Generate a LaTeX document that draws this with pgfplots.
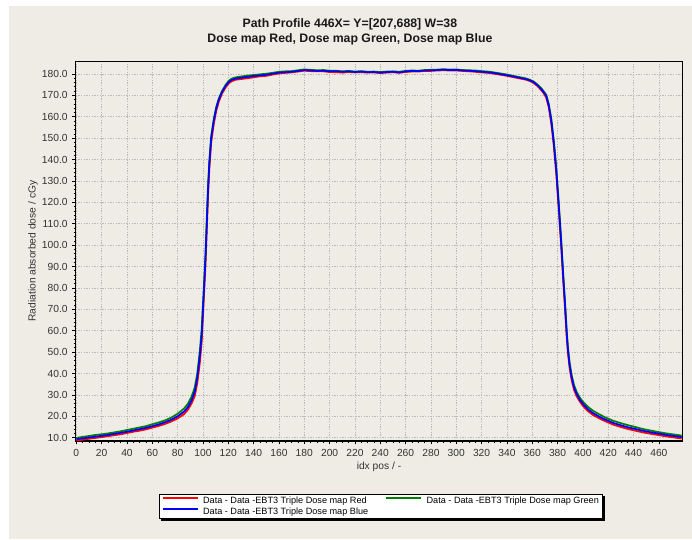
\documentclass[border=0pt]{standalone}
\usepackage{fontspec}
\setmainfont{Liberation Sans}
\usepackage{pgfplots}
\pgfplotsset{compat=1.18}
\usepackage{pgfplotstable}
\definecolor{bgbeige}{RGB}{238,236,228}
\definecolor{gridgray}{RGB}{185,185,185}
\definecolor{dgreen}{RGB}{0,128,0}

\pgfplotstableread{
x b r g
0 9.3 8.7 9.9
5 9.7 9.1 10.4
10 10.1 9.5 10.8
15 10.5 9.9 11.3
20 10.9 10.3 11.6
25 11.3 10.7 12.0
30 11.8 11.2 12.5
35 12.3 11.6 13.0
40 12.8 12.2 13.6
45 13.4 12.8 14.2
50 14.0 13.3 14.8
55 14.6 13.9 15.4
60 15.4 14.7 16.3
65 16.2 15.5 17.1
70 17.2 16.4 18.1
75 18.4 17.6 19.4
80 20.0 19.0 21.2
85 22.2 21.0 23.6
88 24.2 23.0 25.8
91 27.5 26.0 29.2
93.5 31.5 29.5 33.5
95.5 38 35.5 40
97.5 48 45 50.5
99 58 55 61
100 70 67 72.5
101 82 79 84
102 94 91 96
103 110 107 112
104 126 123 127.5
105 138 135.5 139
106.5 150 148 151
108.5 158 156.5 158.8
110.5 164 162.8 164.6
112.5 168 167.0 168.5
115 171.5 170.8 172.0
118 174.5 173.8 175.0
120.5 176.3 175.7 176.9
123 177.3 176.7 177.9
126 177.8 177.3 178.4
130 178.2 177.6 178.8
135 178.6 178.0 179.2
140 179.0 178.4 179.5
145 179.3 178.9 179.8
150 179.6 179.1 180.1
155 180.1 179.7 180.5
160 180.6 180.2 181.0
165 180.8 180.5 181.2
170 181.0 180.7 181.3
175 181.4 181.1 181.7
180 181.8 181.5 182.1
185 181.6 181.3 181.9
190 181.4 181.2 181.7
195 181.5 181.2 181.8
200 181.2 180.9 181.5
205 181.3 180.8 181.5
210 181.0 180.6 181.2
215 181.2 180.9 181.4
220 180.9 180.7 181.1
225 181.1 180.8 181.3
230 180.8 180.6 181.0
235 180.9 180.7 181.1
240 180.6 180.4 180.9
245 180.9 180.6 181.1
250 181.0 180.8 181.2
255 180.7 180.5 181.0
260 181.2 180.9 181.4
265 181.4 181.1 181.6
270 181.3 181.1 181.5
275 181.6 181.4 181.8
280 181.7 181.4 181.9
285 181.8 181.6 182.0
290 182.0 181.7 182.2
295 181.8 181.6 182.0
300 181.9 181.6 182.1
305 181.6 181.4 181.8
310 181.5 181.2 181.7
315 181.3 181.0 181.6
320 181.0 180.7 181.3
325 180.8 180.5 181.1
330 180.4 180.1 180.7
335 179.9 179.6 180.2
340 179.4 179.1 179.7
345 178.8 178.5 179.1
350 178.2 177.9 178.5
355 177.6 177.3 177.9
358 177.0 176.7 177.3
361 176.2 175.8 176.5
364 174.8 174.4 175.1
367 173.0 172.5 173.4
369 171.5 171.0 171.9
371 169.8 169.0 170.3
373 165.5 164.5 166.0
375 158.5 157.0 159.2
377 148 146.5 149
379 135 133 136
381 118 116 119
383 100 98 101
384.5 85 83 86
385.7 74 72 75
387.2 59 57 60.2
388.2 51 49.5 52.2
389.5 44 42.6 45.2
391 38.5 37.2 39.6
393 33.5 32.4 34.6
395 30.5 29.5 31.5
397.6 27.7 26.8 28.7
400 25.8 24.9 26.8
404 23.3 22.4 24.4
408 21.5 20.6 22.6
413 19.8 19.0 20.9
418 18.4 17.6 19.4
424 16.9 16.1 17.9
430 15.8 15.0 16.8
436 14.8 14.0 15.8
442 14.0 13.2 14.9
448 13.2 12.4 14.0
454 12.5 11.8 13.3
460 11.9 11.2 12.6
466 11.3 10.6 12.0
472 10.8 10.1 11.5
478 10.3 9.6 11.0
}\datatab

\begin{document}
\begin{tikzpicture}
\useasboundingbox (0pt,0pt) rectangle (519pt,404.25pt);
\fill[white] (0pt,0pt) rectangle (519pt,404.25pt);
\fill[bgbeige] (6.75pt,0pt) rectangle (519pt,399.75pt);
\begin{axis}[
  at={(56.775pt,73.5pt)}, anchor=south west,
  scale only axis, width=454.95pt, height=284.775pt,
  xmin=-0.5, xmax=478.5, ymin=8.46, ymax=185.9,
  xtick={0,20,...,460}, ytick={10,20,...,180},
  minor x tick num=3, minor y tick num=4,
  tick align=outside, major tick length=2.5pt, minor tick length=1.6pt,
  xtick pos=left, ytick pos=left,
  tick style={black, line width=0.5pt},
  grid=major,
  major grid style={gridgray, dash pattern=on 1pt off 1pt, line width=0.5pt},
  axis line style={line width=1.1pt, black},
  /pgf/number format/assume math mode=true,
  tick label style={font=\fontsize{7.7}{9}\selectfont, text=black!80},
  yticklabel style={/pgf/number format/.cd, fixed, fixed zerofill, precision=1},
  xticklabel style={/pgf/number format/.cd, fixed, precision=0},
  xlabel={idx pos / -}, ylabel={Radiation absorbed dose / cGy},
  label style={font=\fontsize{7.7}{9}\selectfont, text=black!80},
  xlabel style={at={(axis description cs:0.5,-0.0677)}, anchor=center},
  ylabel style={at={(axis description cs:-0.0704,0.5)}, anchor=center},
  title={Path Profile 446X= Y=[207,688] W=38\\Dose map Red, Dose map Green, Dose map Blue},
  title style={at={(axis description cs:0.452,1.057)}, anchor=center, align=center,
    font=\bfseries\fontsize{9.2}{11.25}\selectfont, text=black!90},
  legend columns=2, legend cell align=left,
  legend style={name=leg, at={(axis description cs:0.1368,-0.1396)}, anchor=north west,
    draw=black, line width=0.6pt, fill=white,
    font=\fontsize{6.85}{7.5}\selectfont,
    inner xsep=2pt, inner ysep=1pt,
    nodes={inner sep=0.8pt},
    /tikz/every even column/.append style={column sep=12pt}},
  legend image code/.code={\draw[#1, line width=1.4pt] (0pt,2.3pt) -- (26.25pt,2.3pt); \path[draw=none, fill=none] (0pt,2.3pt) -- (29.5pt,2.3pt);},
]
\addplot[red, line width=1.3pt] table[x=x, y=r]{\datatab};
\addlegendentry{Data - Data -EBT3 Triple Dose map Red}
\addplot[dgreen, line width=1.3pt] table[x=x, y=g]{\datatab};
\addlegendentry{Data - Data -EBT3 Triple Dose map Green}
\addplot[blue, line width=1.3pt] table[x=x, y=b]{\datatab};
\addlegendentry{Data - Data -EBT3 Triple Dose map Blue}
\end{axis}
\fill[black] ([shift={(1.8pt,-1.8pt)}]leg.south west) rectangle ([shift={(0.3pt,-0.3pt)}]leg.south east);
\fill[black] ([shift={(0.3pt,-1.8pt)}]leg.south east) rectangle ([shift={(1.8pt,-1.8pt)}]leg.north east);
\end{tikzpicture}
\end{document}
